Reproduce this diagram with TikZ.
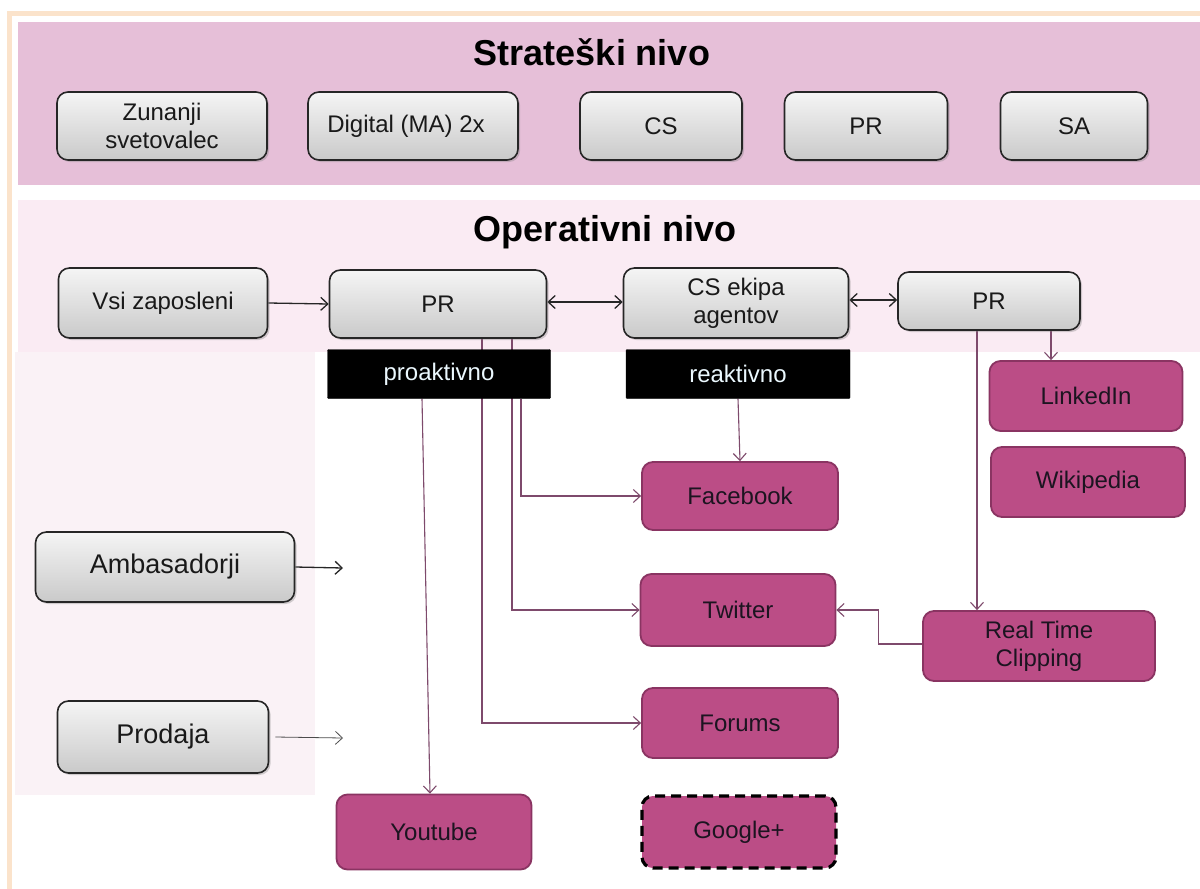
\documentclass[tikz,border=0pt]{standalone}
\usepackage{fontspec}
\setmainfont{Liberation Sans}
\usetikzlibrary{arrows.meta,shadows,calc}
\definecolor{peach}{HTML}{FBE3CB}
\definecolor{bandS}{HTML}{E6BFD8}
\definecolor{bandO}{HTML}{FAEBF3}
\definecolor{bandL}{HTML}{FAF2F6}
\definecolor{mag}{HTML}{BB4D86}
\definecolor{magdark}{HTML}{8A3462}
\definecolor{conn}{HTML}{7E4A6C}
\definecolor{boxtext}{HTML}{1C1420}
\pgfdeclarelayer{bands}
\pgfdeclarelayer{edges}
\pgfsetlayers{bands,edges,main}
\tikzset{
  graybox/.style={draw=black!85, line width=1.6pt, rounded corners=11pt,
    top color=gray!8, bottom color=gray!42, align=center, inner sep=2pt,
    font=\fontsize{24}{28}\selectfont, text=black!90,
    drop shadow={shadow xshift=2pt, shadow yshift=-2pt, opacity=0.35}},
  bigbox/.style={graybox, font=\fontsize{27}{30}\selectfont},
  magbox/.style={draw=magdark, line width=1.8pt, rounded corners=11pt, fill=mag,
    align=center, inner sep=2pt, font=\fontsize{24}{28}\selectfont, text=boxtext},
  blackbox/.style={draw=black, fill=black, rounded corners=1pt, text=white!92!cyan,
    font=\fontsize{24}{28}\selectfont, inner sep=2pt},
  title/.style={font=\bfseries\fontsize{36}{40}\selectfont, text=black},
  conline/.style={draw=conn, line width=1.1pt, -{Straight Barb[length=7pt,width=13pt]}},
  blkline/.style={draw=black!85, line width=1.3pt, -{Straight Barb[length=7pt,width=13pt]}},
  bothline/.style={draw=black!85, line width=1.3pt, {Straight Barb[length=7pt,width=13pt]}-{Straight Barb[length=7pt,width=13pt]}},
}
\begin{document}
\begin{tikzpicture}[x=1pt,y=-1pt]
\useasboundingbox (0,0) rectangle (1200,889);
\begin{pgfonlayer}{bands}
  \fill[white] (0,0) rectangle (1200,889);
  \draw[peach, line width=4.5pt] (9.5,889) -- (9.5,13.5) -- (1200,13.5);
  \fill[bandS] (18,22) rectangle (1200,185);
  \fill[bandO] (18,200) rectangle (1200,352);
  \fill[bandL] (15,352) rectangle (315,795);
\end{pgfonlayer}

\node[title] (tS) at (592,52) {Strateški nivo};
\node[title] (tO) at (605,232) {Operativni nivo};

% strategic level
\node[graybox, minimum width=210pt, minimum height=68pt] (zun) at (162,126) {Zunanji\\svetovalec};
\node[graybox, minimum width=210pt, minimum height=68pt] (dig) at (413,126) {Digital (MA) 2x\hspace*{14pt}};
\node[graybox, minimum width=162pt, minimum height=68pt] (scs) at (661,126) {CS};
\node[graybox, minimum width=163pt, minimum height=68pt] (spr) at (866,126) {PR};
\node[graybox, minimum width=147pt, minimum height=68pt] (ssa) at (1074,126) {SA};

% operative level
\node[graybox, minimum width=209pt, minimum height=70pt] (vsi) at (163,303) {Vsi zaposleni};
\node[graybox, minimum width=217pt, minimum height=68pt] (pr1) at (438,304) {PR};
\node[graybox, minimum width=225pt, minimum height=70pt] (cse) at (736,303) {CS ekipa\\agentov};
\node[graybox, minimum width=182pt, minimum height=58pt] (pr2) at (989,301) {PR};

\node[blackbox, minimum width=223pt, minimum height=49pt] (pro) at (439,374) {proaktivno};
\node[blackbox, minimum width=224pt, minimum height=49pt] (rea) at (738,374) {reaktivno};

\node[bigbox, minimum width=259pt, minimum height=70pt] (amb) at (165,567) {Ambasadorji};
\node[bigbox, minimum width=211pt, minimum height=72pt] (prod) at (163,737) {Prodaja};

% channels
\node[magbox, minimum width=193pt, minimum height=70pt] (li) at (1086,396) {LinkedIn};
\node[magbox, minimum width=194pt, minimum height=70pt] (wiki) at (1088,482) {Wikipedia};
\node[magbox, minimum width=196pt, minimum height=68pt] (fb) at (740,496) {Facebook};
\node[magbox, minimum width=195pt, minimum height=72pt] (tw) at (738,610) {Twitter};
\node[magbox, minimum width=232pt, minimum height=70pt] (rtc) at (1039,646) {Real Time\\Clipping};
\node[magbox, minimum width=196pt, minimum height=70pt] (fo) at (740,723) {Forums};
\node[magbox, minimum width=195pt, minimum height=75pt] (yt) at (434,832) {Youtube};
\node[magbox, draw=black, dash pattern=on 10pt off 6pt, line width=3.2pt, minimum width=194pt, minimum height=72pt] (gp) at (739,832) {Google+};

\coordinate (ambEnd) at (343,568);
\coordinate (prodEnd) at (343,738);

\begin{pgfonlayer}{edges}
  \draw[blkline] (vsi.east) -- (pr1.west);
  \draw[bothline] (pr1.east |- 0,302) -- (cse.west |- 0,302);
  \draw[bothline] (cse.east |- 0,300) -- (pr2.west |- 0,300);
  \draw[conline] ([xshift=62pt]pr2.south) -- ([xshift=-35pt]li.north);
  \draw[conline] ([xshift=-12pt]pr2.south) -- ([xshift=-12pt]pr2.south |- rtc.north);
  \draw[conline] ([yshift=2pt]rtc.west) -- ++(-44,0) |- (tw.east);
  \draw[conline] (rea.south) -- (fb.north);
  \draw[conline] ([xshift=44pt]pr1.south) |- (fo.west);
  \draw[conline] ([xshift=74pt]pr1.south) |- (tw.west);
  \draw[conline] ([xshift=82pt]pro.south) |- (fb.west);
  \draw[conline] ([xshift=-17pt]pro.south) -- ([xshift=-4pt]yt.north);
  \draw[blkline] (amb.east) -- (ambEnd);
  \draw[blkline, line width=0.8pt, draw=black!70] ([xshift=6pt]prod.east) -- (prodEnd);
\end{pgfonlayer}
\end{tikzpicture}
\end{document}
